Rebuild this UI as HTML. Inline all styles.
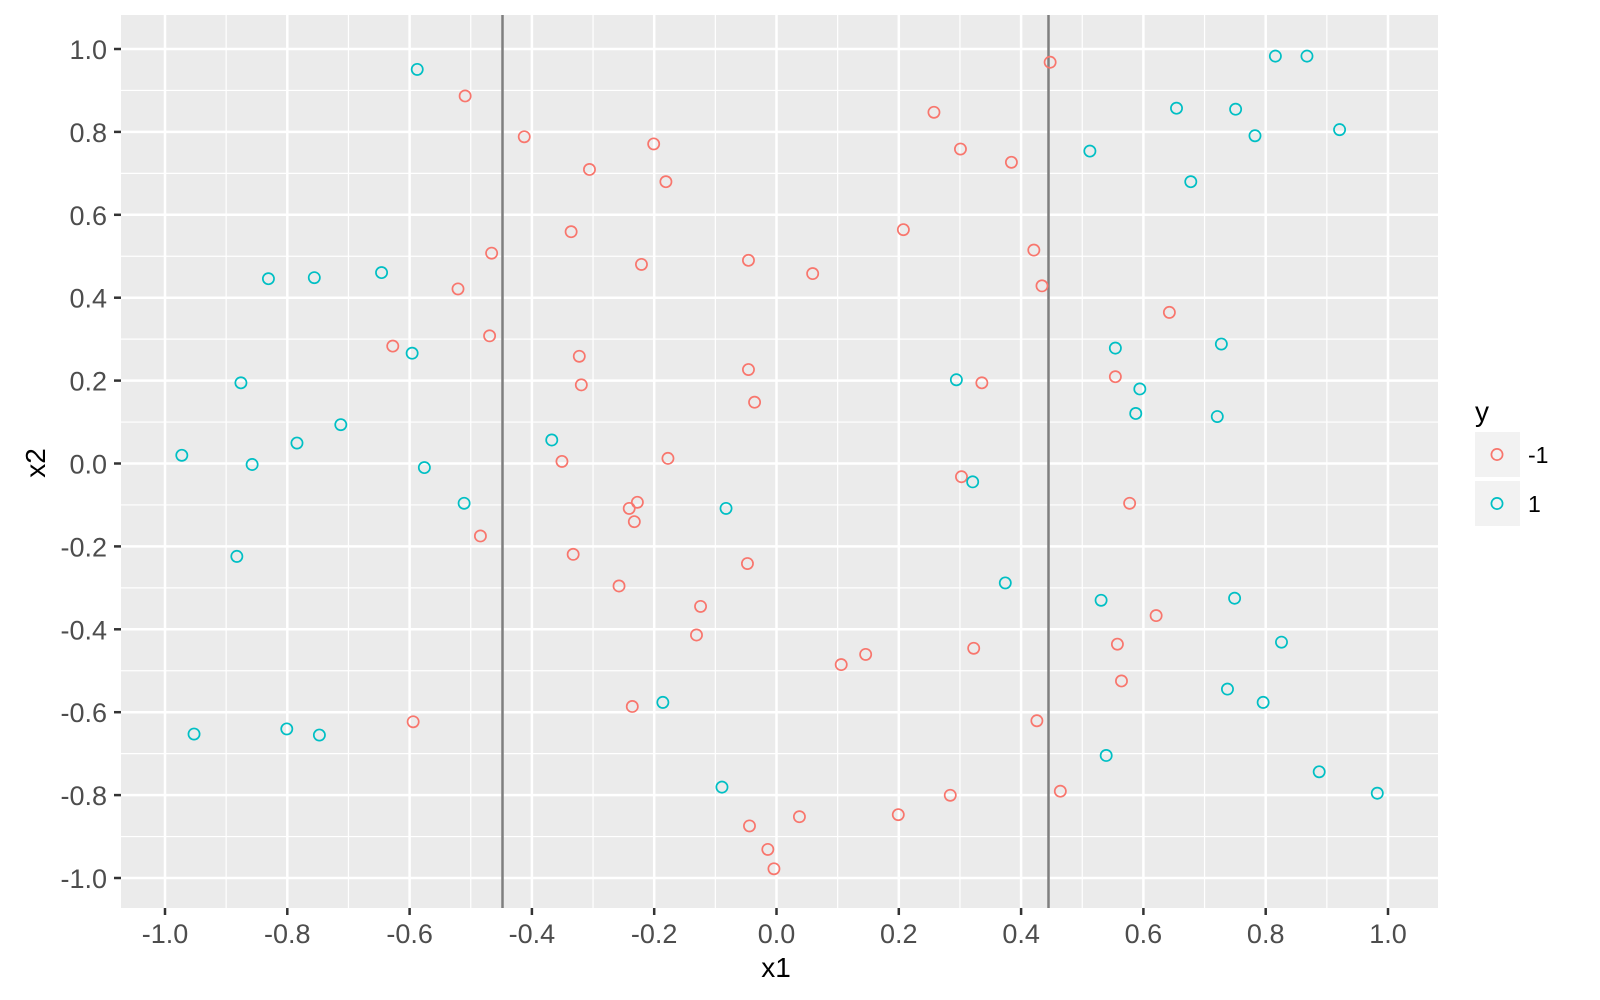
<!DOCTYPE html>
<html><head><meta charset="utf-8"><style>
html,body{margin:0;padding:0;background:#fff;}
svg{display:block;font-family:"Liberation Sans",Arial,sans-serif;}
</style></head><body>
<svg id="s" width="1600" height="1000" viewBox="0 0 1600 1000" xmlns="http://www.w3.org/2000/svg">
<rect x="121" y="15" width="1317" height="893" fill="#EBEBEB"/>
<g id="grid"></g>
<line x1="502.5" y1="15" x2="502.5" y2="908" stroke="#7f7f7f" stroke-width="2.5"/>
<line x1="1048.5" y1="15" x2="1048.5" y2="908" stroke="#7f7f7f" stroke-width="2.5"/>
<g id="pts" fill="none" stroke-width="1.7"></g>
<g id="ticks" stroke="#333" stroke-width="2.5"></g>
<g id="lab" fill="#4d4d4d" font-size="27"></g>
<text x="776" y="977" font-size="28" text-anchor="middle" fill="#000">x1</text>
<text transform="translate(45,463) rotate(-90)" font-size="28" text-anchor="middle" fill="#000">x2</text>
<text x="1475" y="421" font-size="28" fill="#000">y</text>
<rect x="1475" y="432" width="45" height="45" fill="#F2F2F2"/>
<rect x="1475" y="481" width="45" height="45" fill="#F2F2F2"/>
<circle cx="1497" cy="454.5" r="5.6" fill="none" stroke="#F8766D" stroke-width="1.7"/>
<circle cx="1497" cy="503.5" r="5.6" fill="none" stroke="#00BFC4" stroke-width="1.7"/>
<text x="1528" y="463" font-size="23" fill="#000">-1</text>
<text x="1528" y="512" font-size="23" fill="#000">1</text>
</svg>
<script>
var NS="http://www.w3.org/2000/svg";
function el(p,t,a,txt){var e=document.createElementNS(NS,t);for(var k in a)e.setAttribute(k,a[k]);if(txt!==undefined)e.textContent=txt;document.getElementById(p).appendChild(e);}
function X(v){return 776.5+v*611.5;}function Y(v){return 463.5-v*414.5;}
for(var i=-10;i<=10;i++){var v=i/10,maj=(i%2===0);
 el("grid","line",{x1:X(v),x2:X(v),y1:15,y2:908,stroke:"#fff","stroke-width":maj?2.5:1.2});
 el("grid","line",{y1:Y(v),y2:Y(v),x1:121,x2:1438,stroke:"#fff","stroke-width":maj?2.5:1.2});
 if(maj){var s=v.toFixed(1);
  el("ticks","line",{x1:X(v),x2:X(v),y1:908,y2:915});
  el("ticks","line",{x1:114,x2:121,y1:Y(v),y2:Y(v)});
  el("lab","text",{x:X(v),y:943,"text-anchor":"middle"},s);
  el("lab","text",{x:107,y:Y(v)+10,"text-anchor":"end"},s);}
}
var red=[[455,94],[513,134],[577,166],[640,141],[652,178],[559,227],[481,248],[448,283],[628,259],[733,255],[796,268],[479,329],[384,339],[567,349],[569,377],[733,362],[739,394],[550,452],[654,449],[616,498],[624,492],[621,511],[470,525],[561,543],[732,552],[606,574],[686,594],[682,622],[619,692],[404,707],[824,651],[848,641],[734,809],[752,832],[758,851],[783,800],[880,798],[931,779],[915,110],[941,146],[991,159],[885,225],[1013,245],[1021,280],[1029,61],[962,375],[942,467],[954,635],[1016,706],[1039,775],[1146,306],[1093,369],[1107,493],[1133,603],[1095,631],[1099,667]];
var cy=[[408,68],[262,273],[307,272],[373,267],[403,346],[235,375],[333,416],[290,434],[177,446],[246,455],[415,458],[454,493],[231,545],[540,431],[711,498],[649,688],[707,771],[189,719],[280,714],[312,720],[937,372],[953,472],[985,571],[1068,148],[1153,106],[1211,107],[1250,55],[1281,55],[1230,133],[1313,127],[1167,178],[1093,341],[1197,337],[1117,381],[1113,405],[1193,408],[1079,588],[1210,586],[1256,629],[1203,675],[1238,688],[1084,740],[1293,756],[1350,777]];
function add(arr,c){arr.forEach(function(p){el("pts","circle",{cx:165.5+(p[0]-161)*611.5/600,cy:50+(p[1]-49)*829/812,r:5.6,stroke:c});});}
add(red,"#F8766D");add(cy,"#00BFC4");
</script>
</body></html>
